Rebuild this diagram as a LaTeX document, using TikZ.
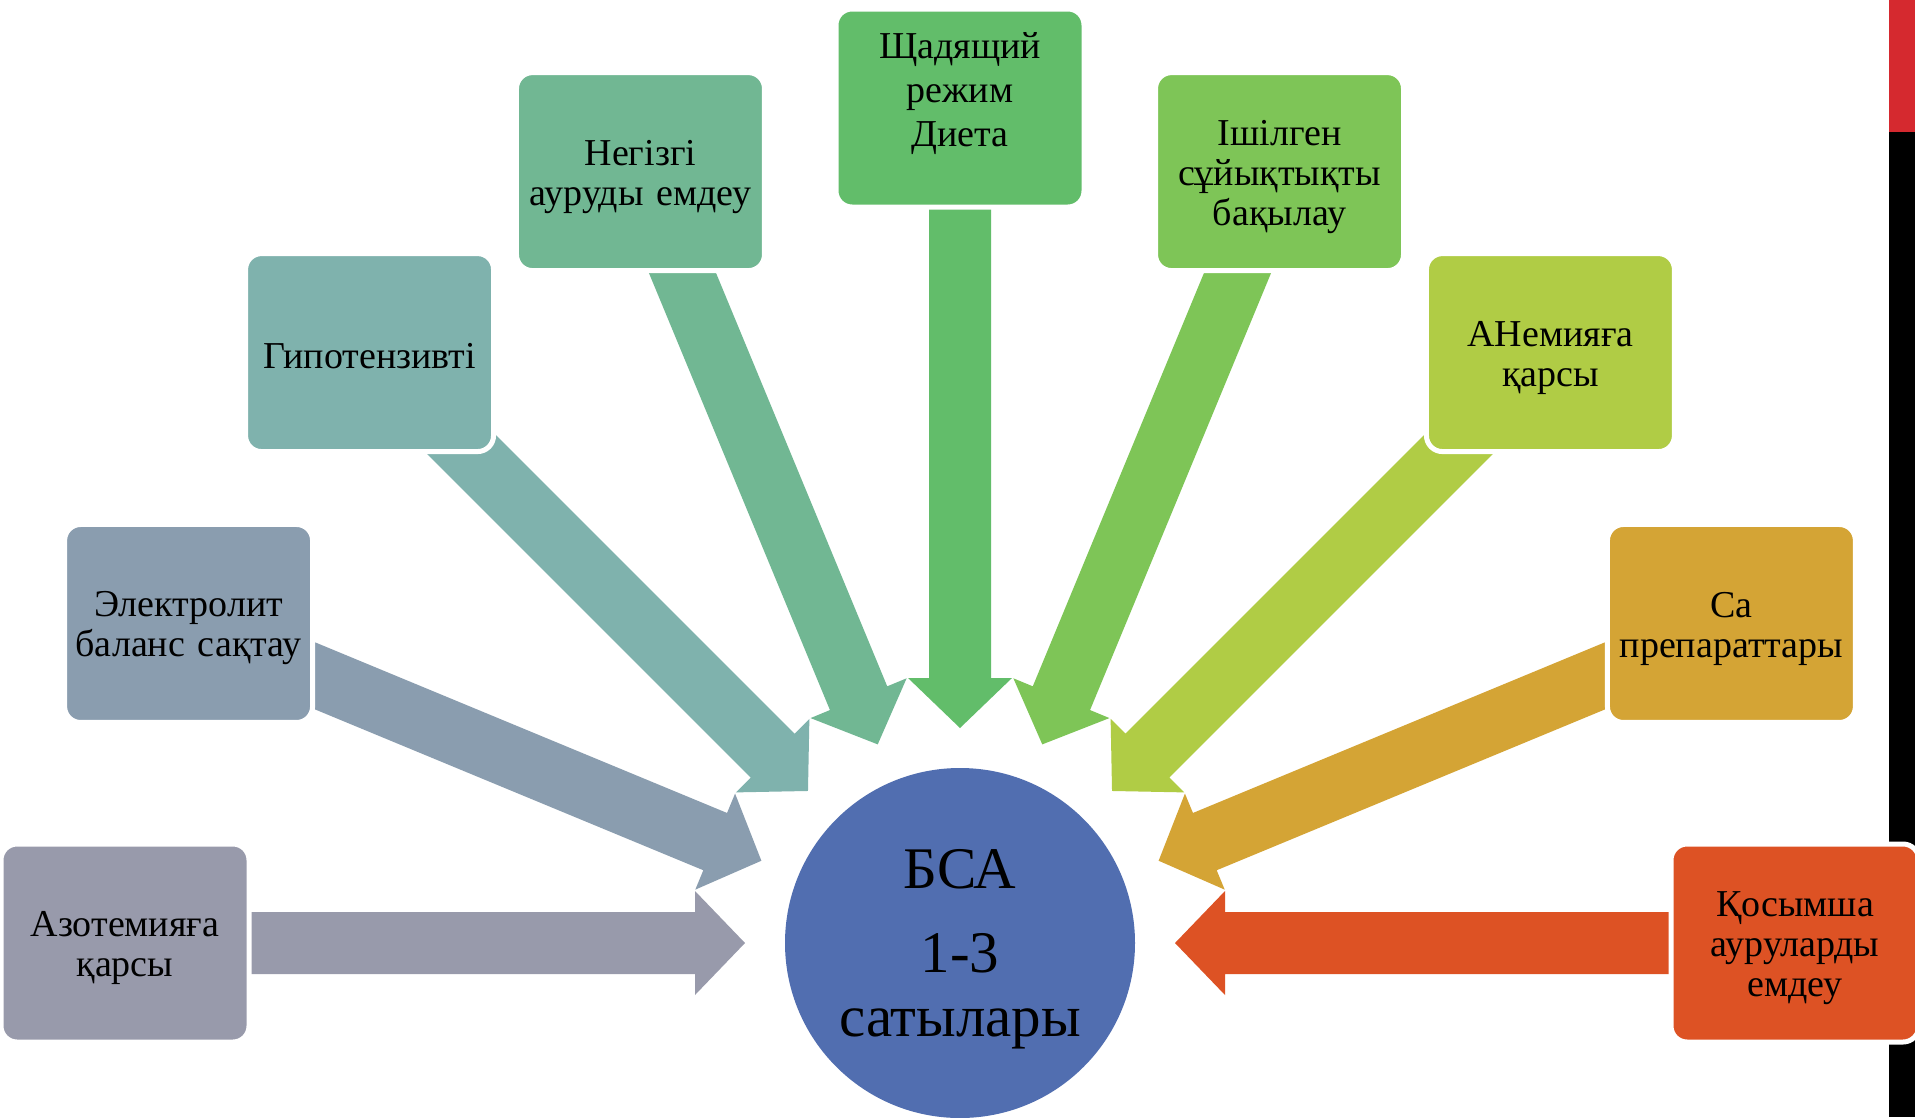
\documentclass[tikz,border=0pt]{standalone}
\usepackage{fontspec}
\setmainfont{Liberation Serif}
\usetikzlibrary{calc}
\definecolor{cA}{HTML}{989AAB}
\definecolor{cB}{HTML}{8A9DAF}
\definecolor{cC}{HTML}{7FB2AD}
\definecolor{cD}{HTML}{71B793}
\definecolor{cE}{HTML}{62BD6A}
\definecolor{cF}{HTML}{7EC557}
\definecolor{cG}{HTML}{B0CC45}
\definecolor{cH}{HTML}{D4A435}
\definecolor{cI}{HTML}{DD5224}
\definecolor{cCirc}{HTML}{516EB0}
\definecolor{cRed}{HTML}{D5292F}
\begin{document}
\begin{tikzpicture}[x=1pt,y=-1pt,
  box/.style={rectangle, rounded corners=16pt, minimum width=248pt, minimum height=198pt,
    draw=white, line width=5pt, inner sep=0pt},
  boxtext/.style={align=center, text width=236pt, inner sep=0pt,
    font=\fontsize{38}{40}\selectfont, text=black},
  hub/.style={circle, minimum size=350pt, inner sep=0pt, fill=cCirc, draw=none},
  hubtext/.style={font=\fontsize{59}{64}\selectfont, align=center, inner sep=0pt, text=black}]
\useasboundingbox (0,0) rectangle (1915,1117);
\fill[white] (0,0) rectangle (1915,1117);
\fill[black] (1889,0) rectangle (1915,1117);
\fill[cRed] (1889,0) rectangle (1915,132);
\coordinate (C) at (960,943);
% block arrows
\foreach \ang/\col in {180/cA, 157.5/cB, 135/cC, 112.5/cD, 90/cE, 67.5/cF, 45/cG, 22.5/cH, 0/cI}{
  \fill[\col, shift={(C)}, rotate=\ang] (835,31) -- (265,31) -- (265,52) -- (215,0)
     -- (265,-52) -- (265,-31) -- (835,-31) -- cycle;
}
\node[hub] (hub) at (C) {};
\node[hubtext] (hubt) at ($(hub.center)+(0,6)$) {БСА\\[20pt]1-3\\сатылары};
% boxes
\node[box, fill=cA] (b1) at ($(C)+(-180:835)$) {};
\node[box, fill=cB] (b2) at ($(C)+(-157.5:835)$) {};
\node[box, fill=cC] (b3) at ($(C)+(-135:835)$) {};
\node[box, fill=cD] (b4) at ($(C)+(-112.5:835)$) {};
\node[box, fill=cE] (b5) at ($(C)+(-90:835)$) {};
\node[box, fill=cF] (b6) at ($(C)+(-67.5:835)$) {};
\node[box, fill=cG] (b7) at ($(C)+(-45:835)$) {};
\node[box, fill=cH] (b8) at ($(C)+(-22.5:835)$) {};
\node[box, fill=cI] (b9) at ($(C)+(0:835)$) {};
% box texts
\node[boxtext] (t1) at ($(b1.center)+(0,5)$) {Азотемияға\\қарсы};
\node[boxtext] (t2) at ($(b2.center)+(0,5)$) {Электролит\\баланс сақтау};
\node[boxtext] (t3) at ($(b3.center)+(0,4)$) {Гипотензивті};
\node[boxtext] (t4) at ($(b4.center)+(0,5)$) {Негізгі\\ауруды емдеу};
\node[boxtext, font=\fontsize{38}{44}\selectfont] (t5) at ($(b5.center)+(0,-14)$) {Щадящий\\режим\\Диета};
\node[boxtext] (t6) at ($(b6.center)+(0,5)$) {Ішілген\\сұйықтықты\\бақылау};
\node[boxtext] (t7) at ($(b7.center)+(0,5)$) {АНемияға\\қарсы};
\node[boxtext] (t8) at ($(b8.center)+(0,5)$) {Са\\препараттары};
\node[boxtext] (t9) at ($(b9.center)+(0,5)$) {Қосымша\\ауруларды\\емдеу};
\end{tikzpicture}
\end{document}
